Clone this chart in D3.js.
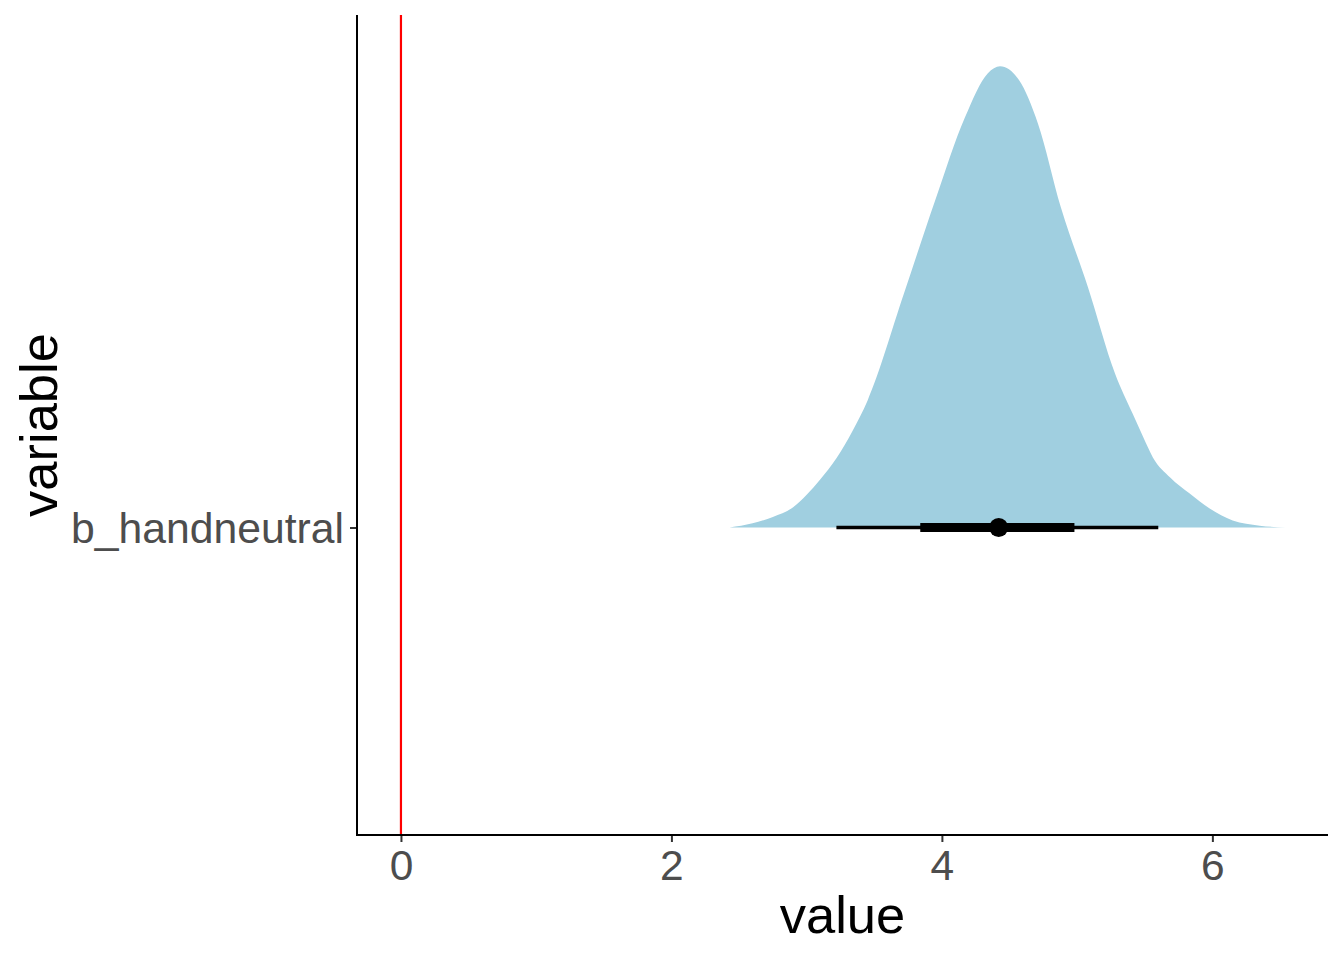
<!DOCTYPE html>
<html>
<head>
<meta charset="utf-8">
<script src="https://cdn.jsdelivr.net/npm/d3@7"></script>
<style>
  html, body { margin: 0; padding: 0; background: #fff; }
  svg { display: block; font-family: "Liberation Sans", Arial, Helvetica, sans-serif; }
</style>
</head>
<body>
<svg id="chart" width="1344" height="960"></svg>
<script>
// ---- data ----
const categories = ["b_handneutral"];
// density outline (value, relative density height 0..1)
const densityX = [2.43, 2.60, 2.75, 2.90, 3.00, 3.10, 3.22, 3.34, 3.45, 3.72, 3.95, 4.17, 4.34, 4.43, 4.57, 4.71, 4.88, 5.08, 5.28, 5.41, 5.49, 5.56, 5.69, 5.83, 5.98, 6.15, 6.35, 6.54];
const densityH = [0.0, 0.009, 0.023, 0.044, 0.071, 0.104, 0.150, 0.210, 0.275, 0.508, 0.709, 0.889, 0.985, 1.0, 0.970, 0.876, 0.694, 0.521, 0.334, 0.247, 0.195, 0.152, 0.108, 0.074, 0.041, 0.015, 0.004, 0.0];
const pointMedian = [4.42];
const interval66 = [3.84, 4.98];
const interval95 = [3.22, 5.60];
const refLine = [0];
const xTicks = [0, 2, 4, 6];
const xTitle = "value";
const yTitle = "variable";

// ---- layout ----
const svg = d3.select("#chart");
const panel = { left: 357, right: 1328, top: 15, bottom: 835 };

const x = d3.scaleLinear().domain([-0.325, 6.855]).range([panel.left, panel.right]);
// discrete category at position 1, slab scale 0.9
const yCat = d3.scaleOrdinal().domain(categories).range([1]);
const y = d3.scaleLinear().domain([0.4, 2.0]).range([panel.bottom, panel.top]);
const slabScale = 0.9;

const slabData = densityX.map((v, i) => ({ x: v, h: densityH[i] }));
const base = yCat(categories[0]);

// slab
const area = d3.area()
  .x(d => x(d.x))
  .y0(() => y(base))
  .y1(d => y(base + slabScale * d.h))
  .curve(d3.curveMonotoneX);

svg.append("path")
  .datum(slabData)
  .attr("d", area)
  .attr("fill", "#a0cfe0");

// reference line
svg.selectAll(".ref").data(refLine).enter().append("line")
  .attr("x1", d => x(d)).attr("x2", d => x(d))
  .attr("y1", panel.top).attr("y2", panel.bottom)
  .attr("stroke", "#ff0000").attr("stroke-width", 2.2);

// intervals
svg.append("line")
  .attr("x1", x(interval95[0])).attr("x2", x(interval95[1]))
  .attr("y1", y(base)).attr("y2", y(base))
  .attr("stroke", "#000").attr("stroke-width", 3.6);
svg.append("line")
  .attr("x1", x(interval66[0])).attr("x2", x(interval66[1]))
  .attr("y1", y(base)).attr("y2", y(base))
  .attr("stroke", "#000").attr("stroke-width", 9);
svg.selectAll(".pt").data(pointMedian).enter().append("circle")
  .attr("cx", d => x(d)).attr("cy", y(base)).attr("r", 9.5)
  .attr("fill", "#000");

// x axis
const gx = svg.append("g").attr("transform", `translate(0,${panel.bottom})`)
  .call(d3.axisBottom(x).tickValues(xTicks).tickSize(7).tickPadding(8).tickFormat(d3.format("d")));
gx.select(".domain").remove();
gx.selectAll(".tick line").attr("stroke", "#333333").attr("stroke-width", 2);
gx.selectAll(".tick text").attr("fill", "#4d4d4d").attr("font-size", 42.5)
  .attr("font-family", "Liberation Sans, Arial, sans-serif").attr("dy", "0.71em");
svg.append("line")
  .attr("x1", panel.left - 1).attr("x2", panel.right)
  .attr("y1", panel.bottom).attr("y2", panel.bottom)
  .attr("stroke", "#000").attr("stroke-width", 2);

// y axis (categorical)
const yBand = d3.scalePoint().domain(categories).range([y(base), y(base)]);
const gy = svg.append("g").attr("transform", `translate(${panel.left},0)`)
  .call(d3.axisLeft(yBand).tickSize(7).tickPadding(6));
gy.select(".domain").remove();
gy.selectAll(".tick line").attr("stroke", "#333333").attr("stroke-width", 2);
gy.selectAll(".tick text").attr("fill", "#4d4d4d").attr("font-size", 42.7)
  .attr("font-family", "Liberation Sans, Arial, sans-serif").attr("dy", "0.35em");
svg.append("line")
  .attr("x1", panel.left).attr("x2", panel.left)
  .attr("y1", panel.top).attr("y2", panel.bottom + 1)
  .attr("stroke", "#000").attr("stroke-width", 2);

// axis titles
svg.append("text")
  .attr("x", (panel.left + panel.right) / 2).attr("y", 933)
  .attr("text-anchor", "middle").attr("font-size", 52.5).attr("fill", "#000")
  .text(xTitle);
svg.append("text")
  .attr("transform", `translate(57,${(panel.top + panel.bottom) / 2}) rotate(-90)`)
  .attr("text-anchor", "middle").attr("font-size", 52.5).attr("fill", "#000")
  .text(yTitle);
</script>
</body>
</html>
